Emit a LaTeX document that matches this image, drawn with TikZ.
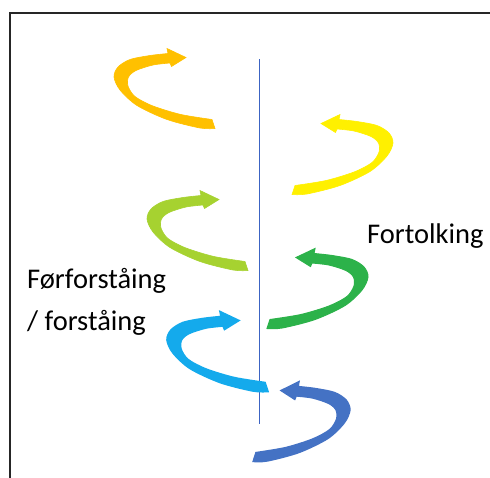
\documentclass[tikz,border=0pt]{standalone}
\usepackage{fontspec}
\setmainfont{Carlito}
\definecolor{cOrange}{RGB}{255,192,0}
\definecolor{cYellow}{RGB}{255,240,0}
\definecolor{cLime}{RGB}{166,210,48}
\definecolor{cGreen}{RGB}{44,178,74}
\definecolor{cSky}{RGB}{20,170,236}
\definecolor{cBlue}{RGB}{68,114,196}
\definecolor{cAxis}{RGB}{60,100,195}
\tikzset{
  swirl/.pic={
    \path[#1] plot[smooth] coordinates {(101,51.5) (86,51) (53,42.5) (23,28.5) (6,13) (0,0) (4,-10) (16,-17.5) (36,-21.5) (54,-23.5)}
      -- (53,-28.5) -- (72,-19.5) -- (57.5,-10.5) -- (56,-14)
      -- plot[smooth] coordinates {(56,-14) (39,-12) (22,-6.5) (14.5,0) (14,9) (21,19.5) (39,29) (67,37.5) (98,42.5)} -- cycle;
  },
  lbl/.style={anchor=base west, inner sep=0pt, font=\fontsize{28.5pt}{34pt}\selectfont},
  frame/.style={line width=1.8pt, black!85},
  axis/.style={line width=1.5pt, cAxis}
}
\begin{document}
\begin{tikzpicture}[x=1pt, y=-1pt]
\useasboundingbox (0,0) rectangle (490,477);
% frame
\coordinate (fb) at (10,478);
\coordinate (fc) at (10,13);
\coordinate (fr) at (491,13);
\draw[frame] (fb) -- (fc) -- (fr);
% axis
\coordinate (at) at (259.5,59);
\coordinate (ab) at (259.5,424);
\draw[axis] (at) -- (ab);
% arrows
\pic at (114,77) {swirl={fill=cOrange, draw=cOrange, line width=0.6pt}};
\pic[xscale=-1] at (393,143) {swirl={fill=cYellow, draw=cYellow, line width=0.6pt}};
\pic at (147,219) {swirl={fill=cLime, draw=cLime, line width=0.6pt}};
\pic[xscale=-1] at (368,277) {swirl={fill=cGreen, draw=cGreen, line width=1pt}};
\pic at (167,340) {swirl={fill=cSky, draw=cSky, line width=1.6pt}};
\pic[xscale=-0.96] at (350,410) {swirl={fill=cBlue, draw=cBlue, line width=1.3pt}};
% labels
\node[lbl] (t1) at (367,243) {Fortolking};
\node[lbl] (t2) at (27,288) {Førforståing};
\node[lbl] (t3) at (27,330) {/ forståing};
\end{tikzpicture}
\end{document}
